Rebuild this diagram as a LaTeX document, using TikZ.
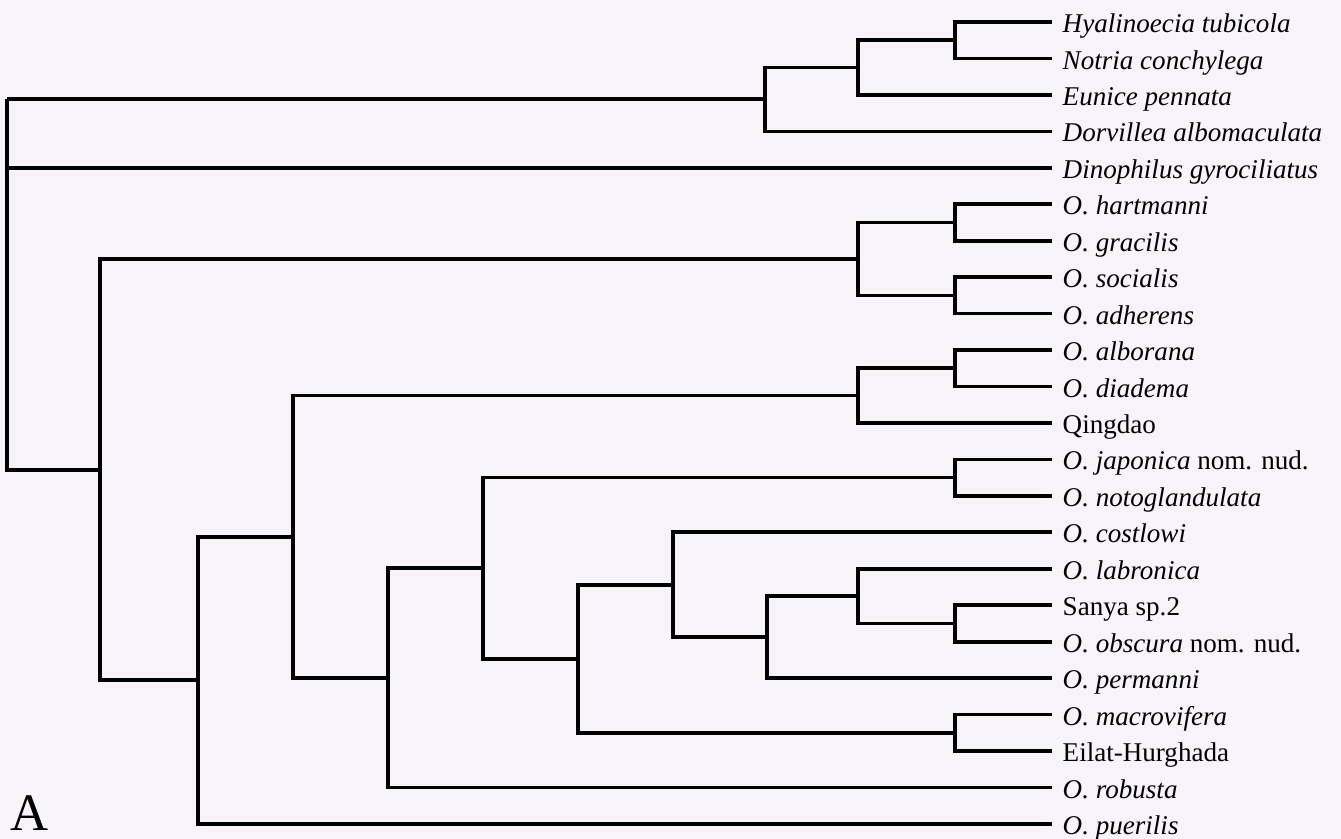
\documentclass[tikz,border=0pt]{standalone}
\usepackage{fontspec}
\setmainfont{Liberation Serif}
\usetikzlibrary{positioning}
\definecolor{paper}{RGB}{246,244,248}

\begin{document}
\begin{tikzpicture}[
    x=0.01cm, y=-0.01cm,
    branch/.style={line width=1.05pt, black},
    taxon/.style={anchor=west, inner xsep=0.1cm, inner ysep=0pt, text height=0.7em, text depth=0.1em, font=\fontsize{7.7}{9}\selectfont},
    panel/.style={anchor=base west, inner sep=0pt, font=\fontsize{15}{18}\selectfont}
]

% 1. Page area
\fill[paper] (0,0) rectangle (1341,839);
\useasboundingbox (0,0) rectangle (1341,839);

% 2. Terminal taxa
\node[taxon] (hyal) at (1052, 22.0) {\textit{Hyalinoecia tubicola}};
\node[taxon] (notr) at (1052, 58.5) {\textit{Notria conchylega}};
\node[taxon] (euni) at (1052, 94.9) {\textit{Eunice pennata}};
\node[taxon] (dorv) at (1052,131.4) {\textit{Dorvillea albomaculata}};
\node[taxon] (dino) at (1052,167.8) {\textit{Dinophilus gyrociliatus}};
\node[taxon] (hart) at (1052,204.3) {\textit{O. hartmanni}};
\node[taxon] (grac) at (1052,240.7) {\textit{O. gracilis}};
\node[taxon] (soci) at (1052,277.2) {\textit{O. socialis}};
\node[taxon] (adhe) at (1052,313.6) {\textit{O. adherens}};
\node[taxon] (albo) at (1052,350.1) {\textit{O. alborana}};
\node[taxon] (diad) at (1052,386.5) {\textit{O. diadema}};
\node[taxon] (qing) at (1052,423.0) {Qingdao};
\node[taxon] (japo) at (1052,459.4) {\textit{O. japonica} nom. nud.};
\node[taxon] (noto) at (1052,495.9) {\textit{O. notoglandulata}};
\node[taxon] (cost) at (1052,532.3) {\textit{O. costlowi}};
\node[taxon] (labr) at (1052,568.8) {\textit{O. labronica}};
\node[taxon] (sany) at (1052,605.2) {Sanya sp.2};
\node[taxon] (obsc) at (1052,641.7) {\textit{O. obscura} nom. nud.};
\node[taxon] (perm) at (1052,678.1) {\textit{O. permanni}};
\node[taxon] (macr) at (1052,714.6) {\textit{O. macrovifera}};
\node[taxon] (eila) at (1052,751.0) {Eilat-Hurghada};
\node[taxon] (robu) at (1052,787.5) {\textit{O. robusta}};
\node[taxon] (puer) at (1052,823.9) {\textit{O. puerilis}};

% 3. Internal nodes (x = depth, y = middle of the children)
\coordinate (hn)     at (955, 40.2);
\coordinate (hne)    at (858, 67.6);
\coordinate (poly)   at (765, 99.3);
\coordinate (hg)     at (955,222.5);
\coordinate (sa)     at (955,295.4);
\coordinate (hgsa)   at (858,259.0);
\coordinate (ad)     at (955,368.3);
\coordinate (adq)    at (858,395.6);
\coordinate (jn)     at (955,477.6);
\coordinate (so)     at (955,623.4);
\coordinate (lso)    at (858,596.1);
\coordinate (lsop)   at (767,637.1);
\coordinate (clsop)  at (673,584.7);
\coordinate (me)     at (955,732.8);
\coordinate (cm)     at (578,658.7);
\coordinate (jcm)    at (483,568.2);
\coordinate (jcmr)   at (388,677.8);
\coordinate (adqall) at (293,536.7);
\coordinate (pue)    at (198,680.3);
\coordinate (ophr)   at (100,469.7);
\coordinate (root)   at (7, 99.3);

% 4. Branches
\draw[branch] (hn) |- (hyal.west) (hn) |- (notr.west);
\draw[branch] (hne) |- (hn) (hne) |- (euni.west);
\draw[branch] (poly) |- (hne) (poly) |- (dorv.west);
\draw[branch] (hg) |- (hart.west) (hg) |- (grac.west);
\draw[branch] (sa) |- (soci.west) (sa) |- (adhe.west);
\draw[branch] (hgsa) |- (hg) (hgsa) |- (sa);
\draw[branch] (ad) |- (albo.west) (ad) |- (diad.west);
\draw[branch] (adq) |- (ad) (adq) |- (qing.west);
\draw[branch] (jn) |- (japo.west) (jn) |- (noto.west);
\draw[branch] (so) |- (sany.west) (so) |- (obsc.west);
\draw[branch] (lso) |- (labr.west) (lso) |- (so);
\draw[branch] (lsop) |- (lso) (lsop) |- (perm.west);
\draw[branch] (clsop) |- (cost.west) (clsop) |- (lsop);
\draw[branch] (me) |- (macr.west) (me) |- (eila.west);
\draw[branch] (cm) |- (clsop) (cm) |- (me);
\draw[branch] (jcm) |- (jn) (jcm) |- (cm);
\draw[branch] (jcmr) |- (jcm) (jcmr) |- (robu.west);
\draw[branch] (adqall) |- (adq) (adqall) |- (jcmr);
\draw[branch] (pue) |- (adqall) (pue) |- (puer.west);
\draw[branch] (ophr) |- (hgsa) (ophr) |- (pue);
\draw[branch] (root) |- (poly) (root) |- (dino.west) (root) |- (ophr);

% 5. Panel letter
\node[panel] (letter) at (10,830) {A};

\end{tikzpicture}
\end{document}
